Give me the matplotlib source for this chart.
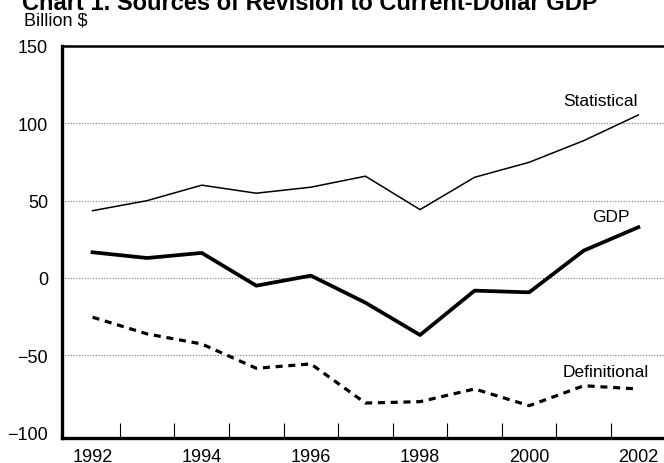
#Sources of revision to current-dollar GDP, 1992-2002
import matplotlib.pyplot as plt
import numpy as np

plt.rcParams['font.family'] = ['Liberation Sans', 'DejaVu Sans']

years = [1992, 1993, 1994, 1995, 1996, 1997, 1998, 1999, 2000, 2001, 2002]
statistical = [43.5, 50.0, 60.0, 54.8, 58.7, 65.8, 44.2, 65.1, 74.8, 88.8, 105.4]
gdp = [16.6, 12.9, 16.2, -5.0, 1.5, -16.0, -36.9, -8.2, -9.3, 17.7, 32.8]
definitional = [-25.4, -36.2, -42.7, -58.4, -55.6, -80.9, -80.0, -71.8, -82.6, -69.7, -71.8]

yticks = [-100, -50, 0, 50, 100, 150]
grid_levels = [-50, 0, 50, 100]
label_years = [1992, 1994, 1996, 1998, 2000, 2002]

fig = plt.figure(figsize=(6.64, 4.64), dpi=100)
ax = fig.add_axes([62/664, 25/464, 1 - 62/664, 392/464])

#dotted grid
for g in grid_levels:
    ax.axhline(g, color='#777777', lw=0.8, ls=(0, (1, 1.5)), zorder=1)

ax.plot(years, statistical, color='k', lw=1.1, zorder=3)
ax.plot(years, gdp, color='k', lw=2.7, zorder=3)
ax.plot(years, definitional, color='k', lw=2.3, ls=(0, (2.2, 1.8)), zorder=3)

ax.text(2001.3, 114.5, 'Statistical', fontsize=12.5, ha='center', va='center')
ax.text(2001.5, 39.5, 'GDP', fontsize=12.5, ha='center', va='center')
ax.text(2001.4, -60.8, 'Definitional', fontsize=12.5, ha='center', va='center')

ax.set_xlim(1991.44, 2002.47)
ax.set_ylim(-103.5, 150)

ax.set_yticks(yticks)
ax.tick_params(axis='y', length=0, pad=10, labelsize=13)

#tick marks between years, labels on even years
ax.set_xticks(np.arange(1992.5, 2002, 1.0))
ax.set_xticklabels([])
ax.tick_params(axis='x', which='major', direction='in', length=11, width=0.8)
ax.set_xticks(label_years, minor=True)
ax.set_xticklabels([str(y) for y in label_years], minor=True)
ax.tick_params(axis='x', which='minor', length=0, pad=7, labelsize=13)

ax.spines['right'].set_visible(False)
for s in ['left', 'bottom']:
    ax.spines[s].set_linewidth(2.4)
ax.spines['top'].set_linewidth(1.8)

fig.text(22/664, 1 - 10/464, 'Chart 1. Sources of Revision to Current-Dollar GDP',
         fontsize=17, fontweight='bold', ha='left', va='baseline')
fig.text(24/664, 1 - 21/464, 'Billion $', fontsize=13, ha='left', va='center')

plt.savefig('out.png', dpi=100)
